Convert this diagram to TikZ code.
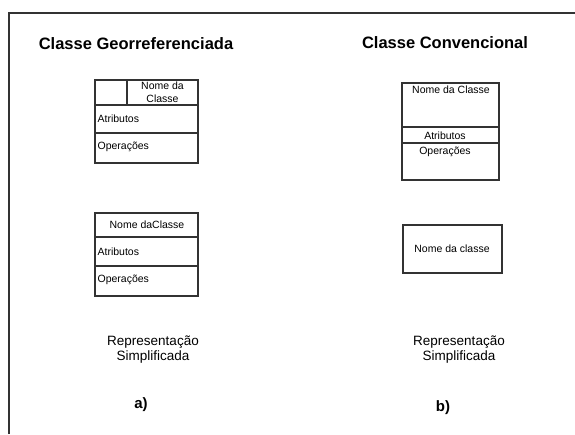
\documentclass[tikz,border=0pt]{standalone}
\usepackage{fontspec}
\setmainfont{Liberation Sans}
\newlength{\du}
\setlength{\du}{15\unitlength}
\newcommand{\tituloFont}{\fontsize{16.5}{18}\bfseries\selectfont}
\newcommand{\caixaFont}{\fontsize{10.5}{13}\selectfont}
\newcommand{\legFont}{\fontsize{13.5}{15}\selectfont}
\begin{document}
\begin{tikzpicture}[even odd rule]
\pgftransformxscale{1.000000}
\pgftransformyscale{-1.000000}
\useasboundingbox (0\du,0\du) rectangle (38.333333\du,28.933333\du);
\definecolor{dialinecolor}{rgb}{0.000000, 0.000000, 0.000000}
\pgfsetstrokecolor{dialinecolor}
\pgfsetstrokeopacity{1.000000}
\definecolor{diafillcolor}{rgb}{1.000000, 1.000000, 1.000000}
\pgfsetfillcolor{diafillcolor}
\pgfsetfillopacity{1.000000}
\pgfsetlinewidth{0.100000\du}
\pgfsetdash{}{0pt}
\pgfsetbuttcap
{
\definecolor{dialinecolor}{rgb}{0.200000, 0.200000, 0.200000}
\pgfsetstrokecolor{dialinecolor}
\draw (0.600000\du,28.933333\du)--(0.600000\du,0.866667\du)--(38.333333\du,0.866667\du);
}
\pgfsetlinewidth{0.080000\du}
\pgfsetmiterjoin
% classe georreferenciada
\draw (6.333333\du,5.333333\du)--(6.333333\du,10.866667\du)--(13.200000\du,10.866667\du)--(13.200000\du,5.333333\du)--cycle;
\draw (6.333333\du,7.000000\du)--(13.200000\du,7.000000\du);
\draw (6.333333\du,8.866667\du)--(13.200000\du,8.866667\du);
\draw (8.466667\du,5.333333\du)--(8.466667\du,7.000000\du);
\draw (6.333333\du,14.200000\du)--(6.333333\du,19.733333\du)--(13.200000\du,19.733333\du)--(13.200000\du,14.200000\du)--cycle;
\draw (6.333333\du,15.800000\du)--(13.200000\du,15.800000\du);
\draw (6.333333\du,17.733333\du)--(13.200000\du,17.733333\du);
% classe convencional
\draw (26.800000\du,5.533333\du)--(26.800000\du,12.000000\du)--(33.266667\du,12.000000\du)--(33.266667\du,5.533333\du)--cycle;
\draw (26.800000\du,8.466667\du)--(33.266667\du,8.466667\du);
\draw (26.800000\du,9.533333\du)--(33.266667\du,9.533333\du);
\draw (26.866667\du,15.000000\du)--(26.866667\du,18.200000\du)--(33.466667\du,18.200000\du)--(33.466667\du,15.000000\du)--cycle;
% textos
\node (tituloGeo) at (9.066667\du,2.933333\du){\tituloFont Classe Georreferenciada};
\node (tituloConv) at (29.666667\du,2.866667\du){\tituloFont Classe Convencional};
\node[inner sep=0pt,align=center,font=\caixaFont] (nomeGeo) at (10.833333\du,6.166667\du){Nome da\\Classe};
\node[anchor=west,inner sep=0pt,font=\caixaFont] (atribGeo) at (6.466667\du,7.933333\du){Atributos};
\node[anchor=west,inner sep=0pt,font=\caixaFont] (operGeo) at (6.466667\du,9.800000\du){Operações};
\node[inner sep=0pt,font=\caixaFont] (nomeGeoS) at (9.800000\du,15.000000\du){Nome daClasse};
\node[anchor=west,inner sep=0pt,font=\caixaFont] (atribGeoS) at (6.466667\du,16.800000\du){Atributos};
\node[anchor=west,inner sep=0pt,font=\caixaFont] (operGeoS) at (6.466667\du,18.666667\du){Operações};
\node[inner sep=0pt,font=\caixaFont] (nomeConv) at (30.066667\du,6.000000\du){Nome da Classe};
\node[inner sep=0pt,font=\caixaFont] (atribConv) at (29.666667\du,9.066667\du){Atributos};
\node[inner sep=0pt,font=\caixaFont] (operConv) at (29.666667\du,10.133333\du){Operações};
\node[inner sep=0pt,font=\caixaFont] (nomeConvS) at (30.133333\du,16.600000\du){Nome da classe};
\node[align=center,font=\legFont] (reprGeo) at (10.200000\du,23.300000\du){Representação\\Simplificada};
\node[align=center,font=\legFont] (reprConv) at (30.600000\du,23.300000\du){Representação\\Simplificada};
\node[font=\fontsize{15}{17}\bfseries\selectfont] (letraA) at (9.400000\du,27.000000\du){a)};
\node[font=\fontsize{15}{17}\bfseries\selectfont] (letraB) at (29.533333\du,27.200000\du){b)};
\end{tikzpicture}
\end{document}
